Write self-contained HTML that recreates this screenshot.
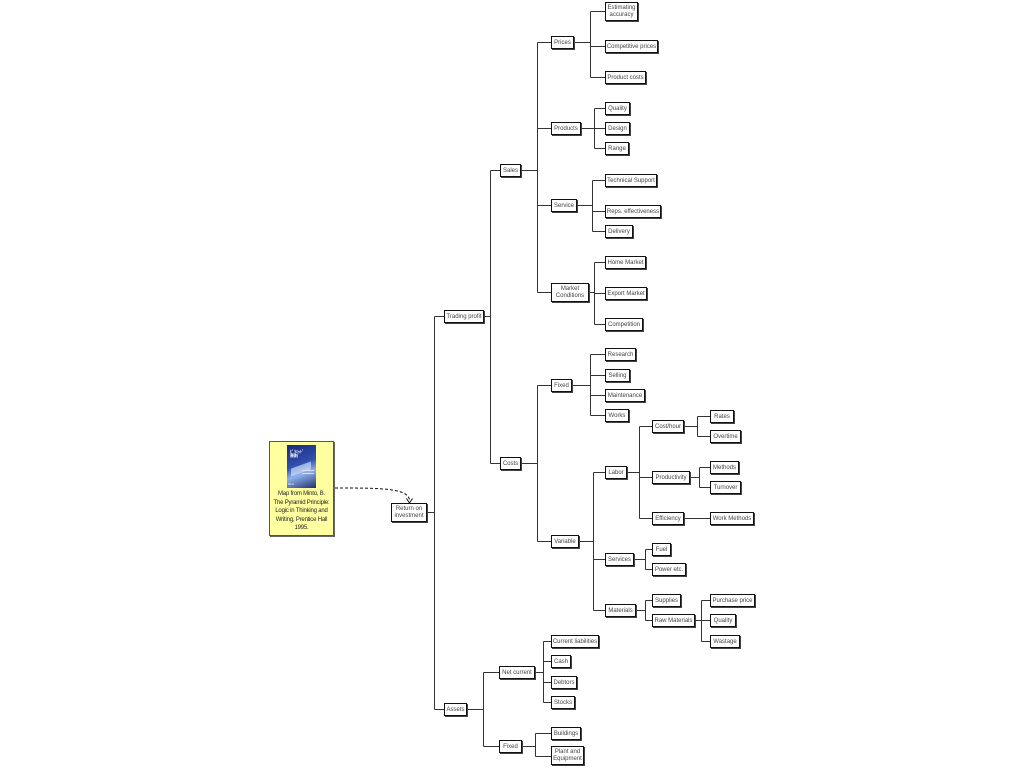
<!DOCTYPE html>
<html><head><meta charset="utf-8"><style>
html,body{margin:0;padding:0;background:#fff;}
body{width:1024px;height:768px;position:relative;overflow:hidden;font-family:"Liberation Sans",sans-serif;}
.b{position:absolute;box-sizing:border-box;border:1px solid #111;background:#fff;box-shadow:1px 1px 0 #444;display:flex;align-items:center;justify-content:center;text-align:center;font-size:6px;line-height:7px;color:#444;white-space:nowrap;padding-top:1px;}
svg{position:absolute;left:0;top:0;}
.note{position:absolute;left:269px;top:441px;width:65px;height:95px;background:#ffffa0;border:1px solid #555;box-sizing:border-box;box-shadow:1px 1px 0 #666;}
.note .t{position:absolute;left:-4px;right:-4px;top:48px;font-size:6px;line-height:8.5px;text-align:center;color:#222;white-space:nowrap;letter-spacing:-0.2px;}
.cover{position:absolute;left:17px;top:3px;width:29px;height:43px;background:linear-gradient(160deg,#1a2a7a 0%,#3050b0 45%,#8fb0e8 65%,#203070 100%);}
</style></head><body>
<svg width="1024" height="768" fill="none" stroke="#333" stroke-width="1">
<path d="M427.5 512.5H434.5M434.5 316.5V709.5M434.5 316.5H444M434.5 709.5H444"/>
<path d="M484 316.5H490.5M490.5 170.5V463.5M490.5 170.5H500M490.5 463.5H500"/>
<path d="M521 170.5H537.5M537.5 42.5V292.5M537.5 42.5H551M537.5 128.5H551M537.5 205.5H551M537.5 292.5H551"/>
<path d="M574 42.5H590.5M590.5 11.5V77.5M590.5 11.5H605M590.5 46.5H605M590.5 77.5H605"/>
<path d="M581 128.5H594.5M594.5 108.5V148.5M594.5 108.5H605M594.5 128.5H605M594.5 148.5H605"/>
<path d="M577 205.5H592.5M592.5 180.5V231.5M592.5 180.5H605M592.5 211.5H605M592.5 231.5H605"/>
<path d="M589 292.5H594.5M594.5 262.5V324.5M594.5 262.5H605M594.5 293.5H605M594.5 324.5H605"/>
<path d="M521 463.5H537.5M537.5 385.5V541.5M537.5 385.5H551M537.5 541.5H551"/>
<path d="M572 385.5H590.5M590.5 354.5V415.5M590.5 354.5H605M590.5 375.5H605M590.5 395.5H605M590.5 415.5H605"/>
<path d="M579 541.5H593.5M593.5 472.5V610.5M593.5 472.5H605M593.5 559.5H605M593.5 610.5H605"/>
<path d="M627 472.5H639.5M639.5 426.5V518.5M639.5 426.5H652M639.5 477.5H652M639.5 518.5H652"/>
<path d="M684 426.5H697.5M697.5 416.5V436.5M697.5 416.5H710M697.5 436.5H710"/>
<path d="M690 477.5H699.5M699.5 467.5V487.5M699.5 467.5H710M699.5 487.5H710"/>
<path d="M684 518.5H710"/>
<path d="M634 559.5H645.5M645.5 549.5V569.5M645.5 549.5H652M645.5 569.5H652"/>
<path d="M636 610.5H645.5M645.5 600.5V620.5M645.5 600.5H652M645.5 620.5H652"/>
<path d="M695 620.5H701.5M701.5 600.5V641.5M701.5 600.5H710M701.5 620.5H710M701.5 641.5H710"/>
<path d="M467 709.5H483.5M483.5 672.5V746.5M483.5 672.5H499M483.5 746.5H499"/>
<path d="M535 672.5H543.5M543.5 641.5V702.5M543.5 641.5H551M543.5 661.5H551M543.5 682.5H551M543.5 702.5H551"/>
<path d="M522 746.5H535.5M535.5 733.5V756.5M535.5 733.5H551M535.5 756.5H551"/>
<path d="M335 488 C380 488 408 488 409.5 500" stroke="#111" stroke-dasharray="3,2"/>
<path d="M406.5 498.5L409.5 503L412.5 498.5" stroke="#111"/>
</svg>
<div class="note"><div class="cover">
<div style="position:absolute;left:3px;top:5px;font-size:4px;line-height:4px;color:#fff;font-weight:bold">ﾋﾟﾗﾐｯﾄﾞ<br>原則</div>
<div style="position:absolute;left:4px;top:20px;width:20px;height:8px;background:rgba(220,235,255,.6);transform:skewY(-20deg)"></div>
<div style="position:absolute;left:15px;top:25px;width:12px;height:1px;background:#dde"></div>
<div style="position:absolute;left:15px;top:28px;width:12px;height:1px;background:#dde"></div>
<div style="position:absolute;left:1px;top:38px;font-size:2.5px;color:#eee">Minto</div>
</div><div class="t">Map from Minto, B.<br>The Pyramid Principle:<br>Logic in Thinking and<br>Writing, Prentice Hall<br>1995.</div></div>

<div class="b" style="left:391px;top:503px;width:36px;height:19px">Return on<br>investment</div>
<div class="b" style="left:444px;top:310px;width:40px;height:13px">Trading profit</div>
<div class="b" style="left:500px;top:164px;width:21px;height:13px">Sales</div>
<div class="b" style="left:500px;top:457px;width:21px;height:13px">Costs</div>
<div class="b" style="left:444px;top:703px;width:23px;height:13px">Assets</div>

<div class="b" style="left:551px;top:36px;width:23px;height:13px">Prices</div>
<div class="b" style="left:551px;top:122px;width:30px;height:13px">Products</div>
<div class="b" style="left:551px;top:199px;width:26px;height:13px">Service</div>
<div class="b" style="left:551px;top:283px;width:38px;height:19px">Market<br>Conditions</div>

<div class="b" style="left:605px;top:2px;width:33px;height:19px">Estimating<br>accuracy</div>
<div class="b" style="left:605px;top:40px;width:53px;height:13px">Competitive prices</div>
<div class="b" style="left:605px;top:71px;width:41px;height:13px">Product costs</div>
<div class="b" style="left:605px;top:102px;width:25px;height:13px">Quality</div>
<div class="b" style="left:605px;top:122px;width:25px;height:13px">Design</div>
<div class="b" style="left:605px;top:142px;width:24px;height:13px">Range</div>
<div class="b" style="left:605px;top:174px;width:52px;height:13px">Technical Support</div>
<div class="b" style="left:605px;top:205px;width:56px;height:13px">Reps. effectiveness</div>
<div class="b" style="left:605px;top:225px;width:28px;height:13px">Delivery</div>
<div class="b" style="left:605px;top:256px;width:41px;height:13px">Home Market</div>
<div class="b" style="left:605px;top:287px;width:42px;height:13px">Export Market</div>
<div class="b" style="left:605px;top:318px;width:38px;height:13px">Competition</div>

<div class="b" style="left:551px;top:379px;width:21px;height:13px">Fixed</div>
<div class="b" style="left:551px;top:535px;width:28px;height:13px">Variable</div>
<div class="b" style="left:605px;top:348px;width:31px;height:13px">Research</div>
<div class="b" style="left:605px;top:369px;width:25px;height:13px">Selling</div>
<div class="b" style="left:605px;top:389px;width:40px;height:13px">Maintenance</div>
<div class="b" style="left:605px;top:409px;width:24px;height:13px">Works</div>
<div class="b" style="left:605px;top:466px;width:22px;height:13px">Labor</div>
<div class="b" style="left:605px;top:553px;width:29px;height:13px">Services</div>
<div class="b" style="left:605px;top:604px;width:31px;height:13px">Materials</div>
<div class="b" style="left:652px;top:420px;width:32px;height:13px">Cost/hour</div>
<div class="b" style="left:652px;top:471px;width:38px;height:13px">Productivity</div>
<div class="b" style="left:652px;top:512px;width:32px;height:13px">Efficiency</div>
<div class="b" style="left:710px;top:410px;width:24px;height:13px">Rates</div>
<div class="b" style="left:710px;top:430px;width:31px;height:13px">Overtime</div>
<div class="b" style="left:710px;top:461px;width:29px;height:13px">Methods</div>
<div class="b" style="left:710px;top:481px;width:31px;height:13px">Turnover</div>
<div class="b" style="left:710px;top:512px;width:44px;height:13px">Work Methods</div>
<div class="b" style="left:652px;top:543px;width:19px;height:13px">Fuel</div>
<div class="b" style="left:652px;top:563px;width:34px;height:13px">Power etc.</div>
<div class="b" style="left:652px;top:594px;width:29px;height:13px">Supplies</div>
<div class="b" style="left:652px;top:614px;width:43px;height:13px">Raw Materials</div>
<div class="b" style="left:710px;top:594px;width:45px;height:13px">Purchase price</div>
<div class="b" style="left:710px;top:614px;width:26px;height:13px">Quality</div>
<div class="b" style="left:710px;top:635px;width:30px;height:13px">Wastage</div>

<div class="b" style="left:499px;top:666px;width:36px;height:13px">Net current</div>
<div class="b" style="left:499px;top:740px;width:23px;height:13px">Fixed</div>
<div class="b" style="left:551px;top:635px;width:48px;height:13px">Current liabilities</div>
<div class="b" style="left:551px;top:655px;width:20px;height:13px">Cash</div>
<div class="b" style="left:551px;top:676px;width:26px;height:13px">Debtors</div>
<div class="b" style="left:551px;top:696px;width:24px;height:13px">Stocks</div>
<div class="b" style="left:551px;top:727px;width:30px;height:13px">Buildings</div>
<div class="b" style="left:551px;top:746px;width:33px;height:19px">Plant and<br>Equipment</div>
</body></html>
